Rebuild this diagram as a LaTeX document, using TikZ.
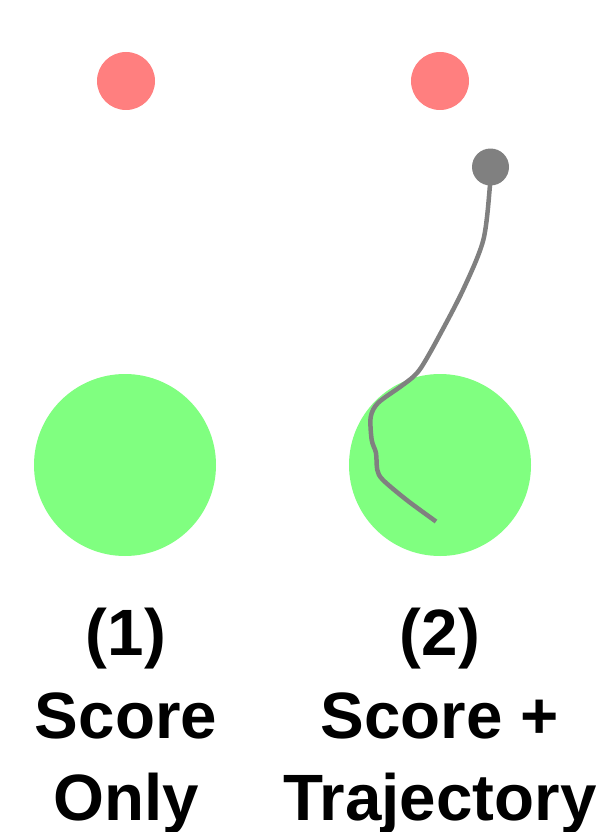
\documentclass[tikz,border=0pt]{standalone}
\usepackage{fontspec}
\setmainfont{Liberation Sans}
\definecolor{goalred}{HTML}{FF7F7F}
\definecolor{regiongreen}{HTML}{80FF80}
\definecolor{trajgray}{HTML}{808080}
\begin{document}
\begin{tikzpicture}[x=1pt,y=-1pt,
  goal/.style={circle,fill=goalred,draw=none,minimum size=58pt,inner sep=0pt},
  region/.style={circle,fill=regiongreen,draw=none,minimum size=182pt,inner sep=0pt},
  agent/.style={circle,fill=trajgray,draw=none,minimum size=37pt,inner sep=0pt},
  traj/.style={draw=trajgray,line width=4.5pt,line cap=butt,line join=round},
  lbl/.style={font=\fontsize{65.5}{80}\selectfont\bfseries,anchor=base,inner sep=0pt}]
\useasboundingbox (0,0) rectangle (603,832);
\node[goal] (r1) at (126,81) {};
\node[goal] (r2) at (440,81) {};
\node[region] (g1) at (125,465) {};
\node[region] (g2) at (440,465) {};
\coordinate (start) at (490.5,167);
\coordinate (tend) at (436,521.5);
\draw[traj] plot[smooth,tension=0.5] coordinates {(start) (490,185) (483.3,240) (463,290) (437,340) (421.7,366.7) (413,377) (400,387) (378,403) (370.7,417) (371.7,440) (376,453) (377.3,470) (383,480) (406.7,500) (tend)};
\node[agent] (a) at (start) {};
\node[lbl] (t1a) at (126,655) {(1)};
\node[lbl] (t1b) at (126,738) {Score};
\node[lbl] (t1c) at (126,820) {Only};
\node[lbl] (t2a) at (440,655) {(2)};
\node[lbl] (t2b) at (440,738) {Score +};
\node[lbl] (t2c) at (440,820) {Trajectory};
\end{tikzpicture}
\end{document}
